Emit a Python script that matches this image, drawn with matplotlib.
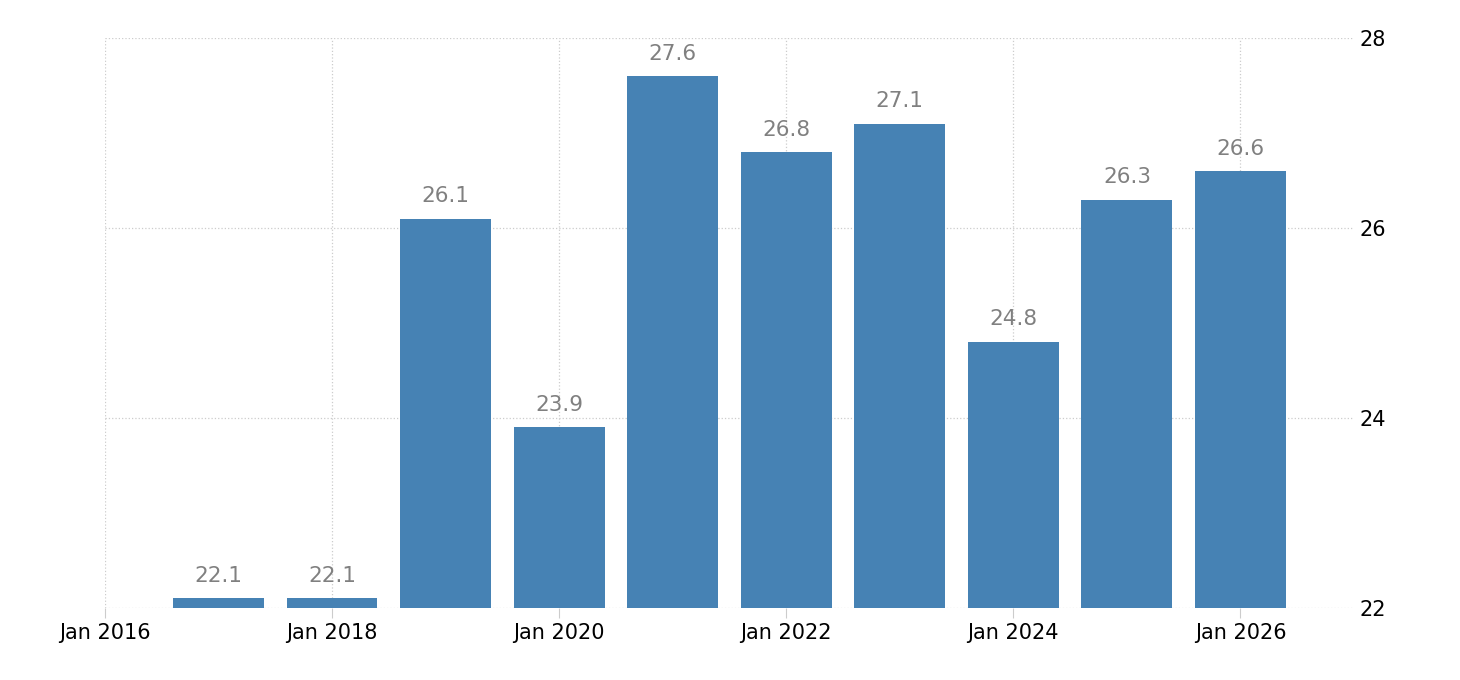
import numpy as np
import matplotlib.pyplot as plt

years = [2017, 2018, 2019, 2020, 2021, 2022, 2023, 2024, 2025, 2026]
values = [22.1, 22.1, 26.1, 23.9, 27.6, 26.8, 27.1, 24.8, 26.3, 26.6]
xticks = [2016, 2018, 2020, 2022, 2024, 2026]
xlabels = ['Jan %d' % y for y in xticks]
yticks = [22, 24, 26, 28]

fig = plt.figure(figsize=(14.6, 6.8), dpi=100)
ax = fig.add_axes([0.0719, 0.1059, 0.8555, 0.8382])

ax.bar(years, [v - 22 for v in values], bottom=22, width=0.8, color='#4682b4', zorder=2)
for x, v in zip(years, values):
    ax.annotate('%.1f' % v, (x, v), xytext=(0, 9), textcoords='offset points',
                ha='center', va='bottom', fontsize=15.5, color='#808080')

ax.set_xlim(2016, 2027)
ax.set_ylim(22, 28)
ax.set_xticks(xticks)
ax.set_xticklabels(xlabels)
ax.set_yticks(yticks)
ax.yaxis.tick_right()
ax.grid(True, color='#cccccc', linestyle=':', linewidth=0.9, zorder=0)
for s in ax.spines.values():
    s.set_visible(False)
ax.tick_params(axis='x', length=7, color='#cccccc', labelsize=15, pad=4)
ax.tick_params(axis='y', length=0, labelsize=15, pad=4)

fig.savefig('out.png')
